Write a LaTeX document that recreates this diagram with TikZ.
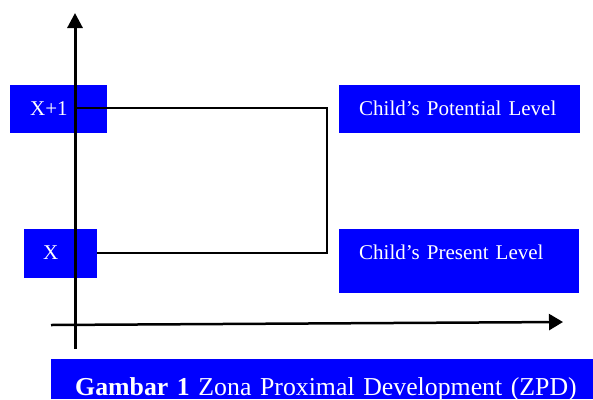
\documentclass[tikz,border=0pt]{standalone}
\usepackage{fontspec}
\setmainfont{Liberation Serif}
\usetikzlibrary{arrows.meta}
\definecolor{boxblue}{RGB}{0,0,255}
\begin{document}
\begin{tikzpicture}[x=1pt,y=-1pt,
  bluebox/.style={fill=boxblue, text=white, draw=none, anchor=north west,
    inner ysep=0pt, align=left, font=\fontsize{21}{23}\selectfont},
  axisline/.style={line width=3pt},
  conn/.style={line width=1.5pt}]
\useasboundingbox (0,0) rectangle (593,399);
% boxes
\node[bluebox, inner xsep=20pt, text width=57pt, text height=30pt, text depth=18pt] (xp1) at (10,85) {X+1};
\node[bluebox, inner xsep=19pt, text width=35pt, text height=30pt, text depth=19pt] (x) at (24,229) {X};
\node[bluebox, inner xsep=20pt, text width=201pt, text height=30pt, text depth=18pt] (pot) at (339,85) {Child’s Potential Level};
\node[bluebox, inner xsep=20pt, text width=200pt, text height=30pt, text depth=34pt] (pre) at (339,229) {Child’s Present Level};
\node[bluebox, inner xsep=0pt, text width=518pt, text height=36pt, text depth=4pt, font=\fontsize{25.8}{28}\selectfont] (cap) at (75,359) {\textbf{Gambar 1} Zona Proximal Development (ZPD)};
\fill[boxblue] (51,359) rectangle (75,399);
% axes
\coordinate (vb) at (75,349);
\coordinate (vt) at (75,13);
\coordinate (hl) at (51,325);
\coordinate (hr) at (563,322);
\draw[axisline, -{Triangle[length=15pt,width=15pt]}] (vb) -- (vt);
\draw[line width=2.5pt, -{Triangle[length=14pt,width=16pt]}] (hl) -- (hr);
% connectors
\coordinate (p1) at (75,108);
\draw[conn] (p1) -- (327,108) |- (x.east |- 0,253);
\end{tikzpicture}
\end{document}
